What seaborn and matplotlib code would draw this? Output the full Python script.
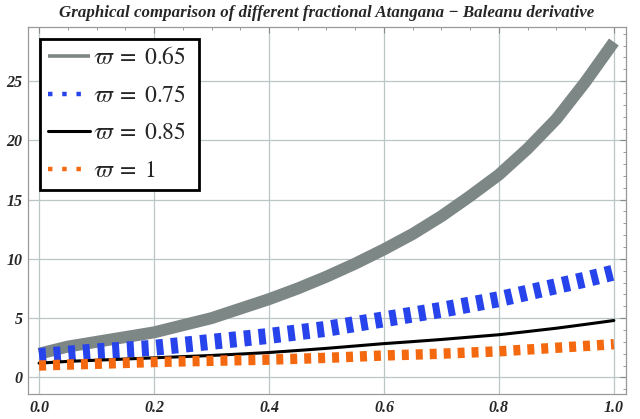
import numpy as np
import pandas as pd
import matplotlib
matplotlib.use("Agg")
import matplotlib.pyplot as plt
from matplotlib.lines import Line2D
from matplotlib.ticker import MultipleLocator
import seaborn as sns

# ---- data ----
x_vals = [0.0, 0.05, 0.1, 0.15, 0.2, 0.25, 0.3, 0.35, 0.4, 0.45, 0.5,
          0.55, 0.6, 0.65, 0.7, 0.75, 0.8, 0.85, 0.9, 0.95, 1.0]
y_065 = [2.0, 2.6, 3.0, 3.4, 3.8, 4.4, 5.0, 5.8, 6.6, 7.5, 8.5,
         9.6, 10.8, 12.1, 13.6, 15.3, 17.1, 19.3, 21.8, 24.9, 28.3]
y_075 = [1.8, 2.0, 2.2, 2.35, 2.5, 2.75, 3.0, 3.25, 3.5, 3.8, 4.1,
         4.5, 4.9, 5.3, 5.7, 6.15, 6.6, 7.15, 7.7, 8.25, 8.85]
y_085 = [1.2, 1.35, 1.45, 1.55, 1.65, 1.75, 1.85, 1.97, 2.1, 2.27, 2.45,
         2.65, 2.85, 3.02, 3.2, 3.4, 3.6, 3.87, 4.15, 4.47, 4.8]
y_100 = [1.0, 1.08, 1.15, 1.22, 1.3, 1.35, 1.4, 1.45, 1.5, 1.57, 1.65,
         1.75, 1.85, 1.92, 2.0, 2.1, 2.2, 2.35, 2.5, 2.65, 2.8]
labels = [r"$\varpi\;=\;0.65$", r"$\varpi\;=\;0.75$", r"$\varpi\;=\;0.85$", r"$\varpi\;=\;1$"]
title = "Graphical comparison of different fractional Atangana \u2212 Baleanu derivative"
x_ticks = [0.0, 0.2, 0.4, 0.6, 0.8, 1.0]
x_ticklabels = ["0.0", "0.2", "0.4", "0.6", "0.8", "1.0"]
y_ticks = [0, 5, 10, 15, 20, 25]
y_ticklabels = ["0", "5", "10", "15", "20", "25"]

sns.set_style("white")
plt.rcParams["mathtext.fontset"] = "stix"
plt.rcParams["font.family"] = ["Liberation Serif", "DejaVu Serif"]

gray = "#7d8786"
blue = "#2643ec"
orange = "#f4690f"

fig = plt.figure(figsize=(6.4, 4.19), dpi=100)
ax = fig.add_axes([0.044, 0.0597, 0.934, 0.876])

sns.lineplot(x=x_vals, y=y_065, ax=ax, color=gray, linewidth=8.6,
             solid_capstyle="butt", solid_joinstyle="round")
sns.lineplot(x=x_vals, y=y_075, ax=ax, color=blue, linewidth=11.5,
             linestyle=(0, (0.44, 0.48)), dash_capstyle="butt")
sns.lineplot(x=x_vals, y=y_085, ax=ax, color="black", linewidth=2.2)
sns.lineplot(x=x_vals, y=y_100, ax=ax, color=orange, linewidth=7.5,
             linestyle=(0, (0.67, 0.67)), dash_capstyle="butt")

ax.set_xlim(-0.019, 1.021)
ax.set_ylim(-1.4, 29.57)

ax.set_xticks(x_ticks)
ax.set_xticklabels(x_ticklabels)
ax.set_yticks(y_ticks)
ax.set_yticklabels(y_ticklabels)
ax.xaxis.set_minor_locator(MultipleLocator(0.05))
ax.yaxis.set_minor_locator(MultipleLocator(1))
for lab in ax.get_xticklabels() + ax.get_yticklabels():
    lab.set_fontweight("bold")
    lab.set_fontstyle("italic")
    lab.set_fontsize(11.5)
ax.tick_params(which="both", direction="in", top=True, right=True,
               color="#888888")
ax.tick_params(which="major", length=4.5, width=0.8, pad=4)
ax.tick_params(which="minor", length=2.5, width=0.6)
ax.grid(True, which="major", color="#bcc6c6", linewidth=0.9)
ax.set_axisbelow(True)
for s in ax.spines.values():
    s.set_color("#999999")
    s.set_linewidth(0.9)

ax.set_title(title, fontsize=12.2, fontweight="bold", fontstyle="italic", pad=7)

handles = [
    Line2D([], [], color=gray, linewidth=2.6, solid_capstyle="butt"),
    Line2D([], [], color=blue, linewidth=3.2, linestyle=(0, (1.0, 2.2))),
    Line2D([], [], color="black", linewidth=2.2),
    Line2D([], [], color=orange, linewidth=3.2, linestyle=(0, (1.0, 2.2))),
]
leg = ax.legend(handles, labels, loc="upper left",
                bbox_to_anchor=(0.02, 0.967 - 0.41, 0.266, 0.41),
                mode="expand", borderaxespad=0, fontsize=17, frameon=True,
                fancybox=False, framealpha=1, edgecolor="black",
                handlelength=1.75, handletextpad=0.15, labelspacing=0.68,
                borderpad=0.35)
leg.get_frame().set_linewidth(2.0)

fig.savefig("out.png", dpi=100)
